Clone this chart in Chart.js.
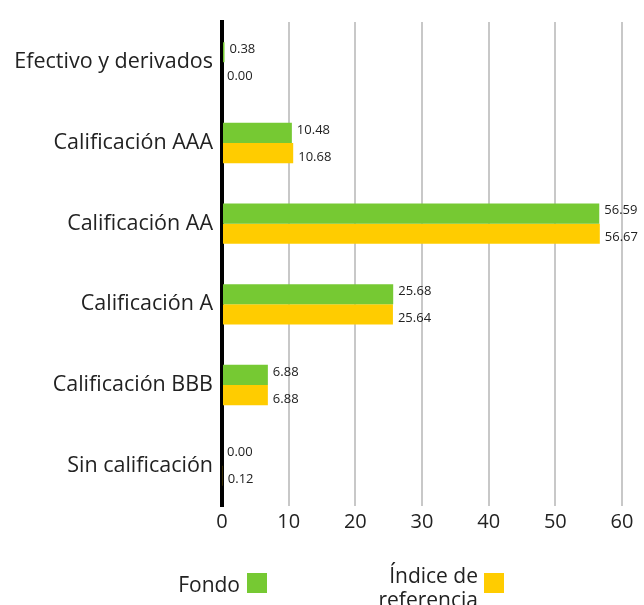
<!DOCTYPE html>
<html>
<head>
<meta charset="utf-8">
<script src="https://cdn.jsdelivr.net/npm/chart.js@4"></script>
<style>
  body { margin: 0; background: #fff; font-family: "Open Sans", sans-serif; }
  #wrap { position: relative; width: 644px; height: 605px; overflow: hidden; }
  .legend-item { position: absolute; font-size: 21px; color: #222; line-height: 24px; text-align: right; }
  .box { position: absolute; width: 20px; height: 20px; }
</style>
</head>
<body>
<div id="wrap">
  <canvas id="chart" width="644" height="605"></canvas>
  <div class="legend-item" style="left:140px; top:572px; width:100px;">Fondo</div>
  <div class="box" style="left:247px; top:573px; background:#76c933;"></div>
  <div class="legend-item" style="left:330px; top:563px; width:148px;">Índice de referencia</div>
  <div class="box" style="left:484px; top:573px; background:#ffcc00;"></div>
</div>
<script>
// chart data
const categories = ["Efectivo y derivados", "Calificación AAA", "Calificación AA", "Calificación A", "Calificación BBB", "Sin calificación"];
const fondo = [0.38, 10.48, 56.59, 25.68, 6.88, 0.00];
const indice = [0.00, 10.68, 56.67, 25.64, 6.88, 0.12];
const xTicks = [0, 10, 20, 30, 40, 50, 60];

// draws the value next to the end of each bar
const valueLabels = {
  id: 'valueLabels',
  afterDatasetsDraw(chart) {
    const ctx = chart.ctx;
    ctx.save();
    ctx.font = '13px "Open Sans", sans-serif';
    ctx.fillStyle = '#222';
    ctx.textBaseline = 'middle';
    chart.data.datasets.forEach((ds, i) => {
      const shift = i === 0 ? -3 : 4; // spread the two labels a bit apart
      chart.getDatasetMeta(i).data.forEach((bar, j) => {
        ctx.fillText(ds.data[j].toFixed(2), bar.x + 5, bar.y + shift);
      });
    });
    ctx.restore();
  }
};

new Chart(document.getElementById('chart'), {
  type: 'bar',
  data: {
    labels: categories,
    datasets: [
      { label: 'Fondo', data: fondo, backgroundColor: '#76c933' },
      { label: 'Índice de referencia', data: indice, backgroundColor: '#ffcc00' }
    ]
  },
  options: {
    indexAxis: 'y',
    responsive: false,
    animation: false,
    layout: { padding: { top: 22, right: 22, bottom: 67 } },
    datasets: { bar: { categoryPercentage: 0.5, barPercentage: 1 } },
    plugins: { legend: { display: false }, tooltip: { enabled: false } },
    scales: {
      x: {
        min: 0,
        max: 60,
        afterBuildTicks: s => { s.ticks = xTicks.map(v => ({ value: v })); },
        grid: { color: '#c8c8c8', lineWidth: 2, drawTicks: false },
        border: { display: false },
        ticks: { color: '#222', font: { size: 20, family: '"Open Sans", sans-serif' }, padding: 4 }
      },
      y: {
        afterFit: s => { s.width = 222; },
        grid: { display: false },
        border: { color: '#000', width: 4 },
        ticks: { color: '#222', font: { size: 21.5, family: '"Open Sans", sans-serif' }, padding: 1 }
      }
    }
  },
  plugins: [valueLabels]
});
</script>
</body>
</html>
